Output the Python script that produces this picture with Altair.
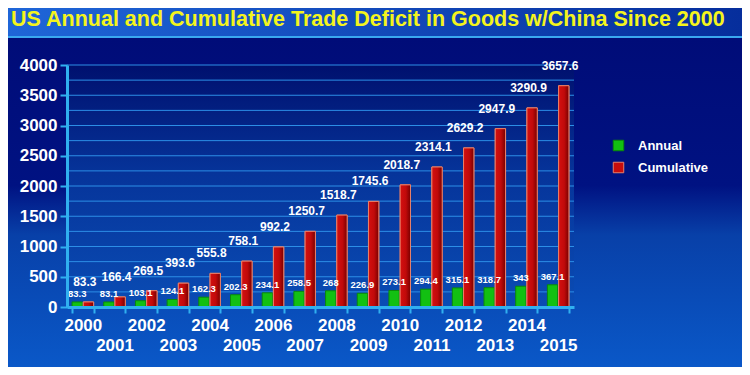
import altair as alt
import pandas as pd

title_text = "US Annual and Cumulative Trade Deficit in Goods w/China Since 2000"
years = [str(y) for y in range(2000, 2016)]
annual = [83.3, 83.1, 103.1, 124.1, 162.3, 202.3, 234.1, 258.5, 268, 226.9,
          273.1, 294.4, 315.1, 318.7, 343, 367.1]
cumulative = [83.3, 166.4, 269.5, 393.6, 555.8, 758.1, 992.2, 1250.7, 1518.7,
              1745.6, 2018.7, 2314.1, 2629.2, 2947.9, 3290.9, 3657.6]
series_names = ["Annual", "Cumulative"]
y_ticks = list(range(0, 4001, 500))
grid_vals = list(range(0, 4001, 250))

rows = []
for i, y in enumerate(years):
    rows.append({"year": y, "series": "Annual", "value": annual[i]})
    rows.append({"year": y, "series": "Cumulative", "value": cumulative[i]})
df = pd.DataFrame(rows)
grid_df = pd.DataFrame({"value": grid_vals})

W, H = 507, 242
PL, PT = 59, 57
CW, CH = 734, 359
FONT = "Liberation Sans, Arial, sans-serif"

xscale = alt.Scale(domain=years, paddingInner=0.32, paddingOuter=0.16)
yscale = alt.Scale(domain=[0, 4000], nice=False)
offscale = alt.Scale(domain=series_names, paddingInner=0.08)

yaxis = alt.Axis(values=y_ticks, format="d", grid=False, labelFontSize=17, labelFont=FONT,
                 labelFontWeight="bold", labelColor="white", labelPadding=3,
                 domainColor="#30b0f0", domainWidth=3, tickColor="#30b0f0",
                 tickWidth=2, tickSize=7, zindex=1, title=None)
xaxis = alt.Axis(labelExpr="toNumber(datum.value) % 2 == 1 ? ['', datum.label] : datum.label",
                 labelAngle=0, labelFontSize=17, labelFont=FONT, labelFontWeight="bold",
                 labelColor="white", labelLineHeight=20, labelPadding=4,
                 domainColor="#30b0f0", domainWidth=3, tickColor="#30b0f0",
                 tickWidth=2, tickSize=6, tickBand="extent", zindex=1, title=None)

one = pd.DataFrame({"t": [title_text]})

# decorative backgrounds
bg = alt.Chart(one).mark_rect(
    color=alt.LinearGradient(
        gradient="linear", x1=0, y1=0, x2=0, y2=1,
        stops=[alt.GradientStop(offset=0, color="#000c78"),
               alt.GradientStop(offset=0.45, color="#001282"),
               alt.GradientStop(offset=0.6, color="#0840a8"),
               alt.GradientStop(offset=1, color="#0a58c8")])
).encode(x=alt.value(-PL), x2=alt.value(CW - PL), y=alt.value(-PT + 29), y2=alt.value(CH - PT))

band = alt.Chart(one).mark_rect(
    color=alt.LinearGradient(
        gradient="linear", x1=0, y1=0, x2=1, y2=0,
        stops=[alt.GradientStop(offset=0, color="#1f66d8"),
               alt.GradientStop(offset=1, color="#062e9c")])
).encode(x=alt.value(-PL), x2=alt.value(CW - PL), y=alt.value(-PT), y2=alt.value(-PT + 28))

band_line = alt.Chart(one).mark_rect(color="#3aa8f0").encode(
    x=alt.value(-PL), x2=alt.value(CW - PL), y=alt.value(-PT + 28), y2=alt.value(-PT + 30))

title = alt.Chart(one).mark_text(
    align="left", baseline="alphabetic", fontSize=21.5, fontWeight="bold", color="#f4f41c",
    font=FONT
).encode(x=alt.value(-56), y=alt.value(-39), text="t:N")

plot_bg = alt.Chart(one).mark_rect(
    color=alt.LinearGradient(
        gradient="linear", x1=0, y1=0, x2=0, y2=1,
        stops=[alt.GradientStop(offset=0, color="#00106e"),
               alt.GradientStop(offset=0.45, color="#06349a"),
               alt.GradientStop(offset=1, color="#0a4cb4")])
).encode(x=alt.value(0), x2=alt.value(W), y=alt.value(0), y2=alt.value(H))

grid = alt.Chart(grid_df).mark_rule(color="#2c8ee6", strokeWidth=1).encode(
    y=alt.Y("value:Q", scale=yscale, axis=yaxis),
    x=alt.value(0), x2=alt.value(W))

base = alt.Chart(df)

bars = base.mark_bar(strokeWidth=1).encode(
    x=alt.X("year:N", scale=xscale, sort=years, axis=xaxis),
    xOffset=alt.XOffset("series:N", scale=offscale),
    y=alt.Y("value:Q", scale=yscale, axis=yaxis),
    color=alt.Color("series:N", scale=alt.Scale(domain=series_names, range=["#12c012", "#c80c0c"]),
                    legend=alt.Legend(title=None, orient="none", legendX=545, legendY=74,
                                      symbolType="square", symbolSize=110, labelFontSize=13,
                                      labelFont=FONT, labelFontWeight="bold", labelColor="white",
                                      labelOffset=13, rowPadding=7, symbolStrokeWidth=1)),
    stroke=alt.Stroke("series:N", scale=alt.Scale(domain=series_names, range=["#0a8a0a", "#e8806a"]),
                      legend=None),
)

red_overlay = base.transform_filter(alt.datum.series == "Cumulative").mark_bar(
    stroke="#e8806a", strokeWidth=1,
    color=alt.LinearGradient(
        gradient="linear", x1=0, y1=0, x2=1, y2=0,
        stops=[alt.GradientStop(offset=0, color="#d41010"),
               alt.GradientStop(offset=0.55, color="#c00a0a"),
               alt.GradientStop(offset=1, color="#780000")])
).encode(
    x=alt.X("year:N", scale=xscale, sort=years, axis=xaxis),
    xOffset=alt.XOffset("series:N", scale=offscale),
    y=alt.Y("value:Q", scale=yscale, axis=yaxis),
)

annual_txt = base.transform_filter(alt.datum.series == "Annual").mark_text(
    font=FONT, fontWeight="bold", fontSize=9.5, color="white", baseline="middle", dy=-8
).encode(
    x=alt.X("year:N", scale=xscale, sort=years, axis=xaxis),
    xOffset=alt.XOffset("series:N", scale=offscale),
    y=alt.Y("value:Q", scale=yscale, axis=yaxis),
    text=alt.Text("value:Q", format=".1~f"),
)

cum_txt = base.transform_filter(alt.datum.series == "Cumulative").mark_text(
    font=FONT, fontWeight="bold", fontSize=12, color="white", baseline="middle", dy=-20, dx=2
).encode(
    x=alt.X("year:N", scale=xscale, sort=years, axis=xaxis),
    y=alt.Y("value:Q", scale=yscale, axis=yaxis),
    text=alt.Text("value:Q", format=".1~f"),
)

chart = alt.layer(bg, band, band_line, title, plot_bg, grid, bars, red_overlay,
                  annual_txt, cum_txt).properties(
    width=W, height=H,
    autosize=alt.AutoSizeParams(type="none"),
    padding={"left": PL, "top": PT, "right": CW - PL - W, "bottom": CH - PT - H},
    background="#000c78",
).configure_view(stroke=None)

chart.save("out.html", embed_options={"renderer": "svg", "actions": False})
